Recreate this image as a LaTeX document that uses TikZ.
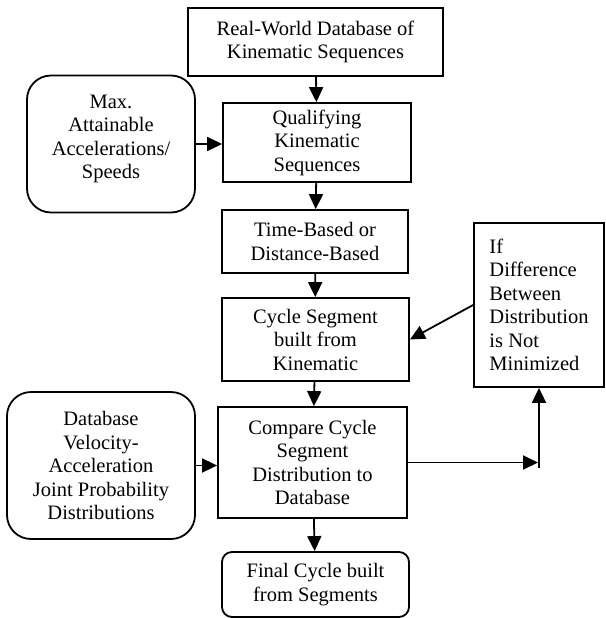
\documentclass[tikz,border=0pt]{standalone}
\usepackage{fontspec}
\setmainfont{Liberation Serif}
\usetikzlibrary{arrows.meta}
\begin{document}
\begin{tikzpicture}[x=1pt,y=-1pt,
  box/.style={draw,line width=1.8pt,align=center,inner sep=0pt,font=\fontsize{20.5}{23.5}\selectfont},
  rbox/.style={box,rounded corners=24pt},
  arr/.style={line width=1.8pt,-{Triangle[length=15pt,width=14pt]}}]
\useasboundingbox (0,0) rectangle (605,618);
\node[box,minimum width=255,minimum height=68] (real) at (315.5,42) {Real-World Database of\\Kinematic Sequences};
\node[box,minimum width=188,minimum height=79] (qual) at (317,142.5) {Qualifying\\Kinematic\\Sequences};
\node[rbox,minimum width=168,minimum height=137,text depth=14pt] (maxacc) at (111,144) {Max.\\Attainable\\Accelerations/\\Speeds};
\node[box,minimum width=186,minimum height=63] (time) at (315,241.5) {Time-Based or\\Distance-Based};
\node[box,minimum width=187,minimum height=83] (cycle) at (315.5,339.5) {Cycle Segment\\built from\\Kinematic};
\node[box,align=left,minimum width=130,minimum height=164] (ifdiff) at (539,305) {If\\Difference\\Between\\Distribution\\is Not\\Minimized};
\node[box,minimum width=189,minimum height=111] (compare) at (312.5,462.5) {Compare Cycle\\Segment\\Distribution to\\Database};
\node[rbox,minimum width=188,minimum height=147] (database) at (101,465.5) {Database\\Velocity-\\Acceleration\\Joint Probability\\Distributions};
\node[box,rounded corners=10pt,minimum width=187,minimum height=65] (final) at (315.5,584.5) {Final Cycle built\\from Segments};
\coordinate (turn) at (538,462.5);
% main chain
\draw[arr] (real) -- (qual);
\draw[arr] (qual) -- (time);
\draw[arr] (time) -- (cycle);
\draw[arr] (cycle) -- (compare);
\draw[arr] (compare) -- (final);
% side inputs
\draw[arr] (maxacc.east) -- (maxacc.east -| qual.west);
\draw[arr] (database.east) -- (database.east -| compare.west);
% loop back
\draw[arr] (compare.east) -- (turn);
\draw[arr] ([yshift=-5pt]ifdiff.south |- turn) -- (ifdiff.south);
\draw[arr] (ifdiff.west) -- (cycle.east);
\end{tikzpicture}
\end{document}
